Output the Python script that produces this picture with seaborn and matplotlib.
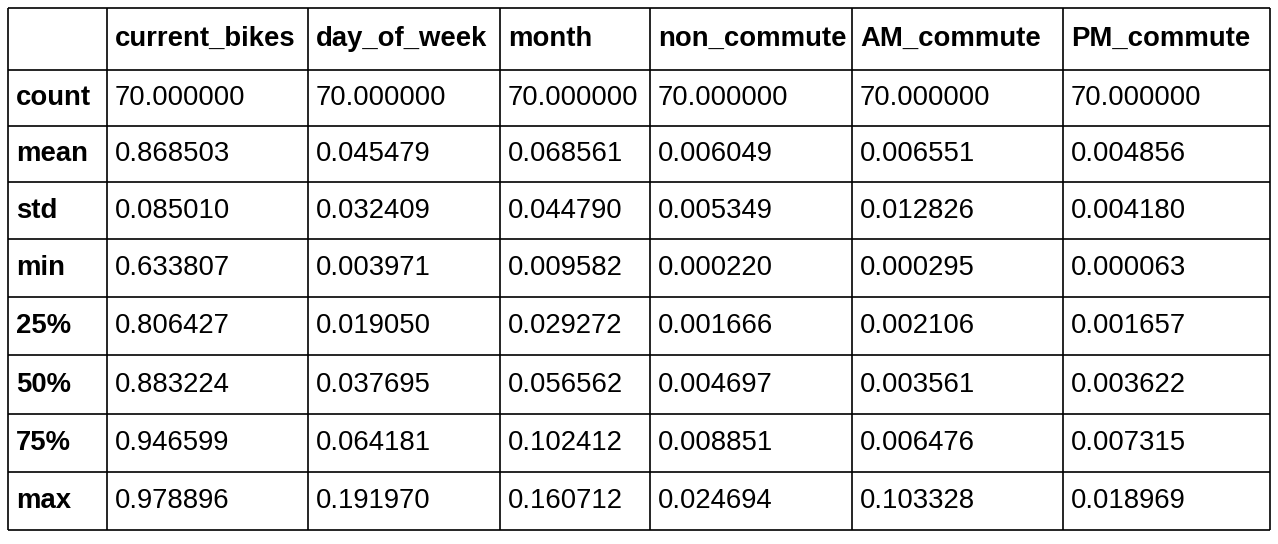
import numpy as np
import pandas as pd
import seaborn as sns
import matplotlib.pyplot as plt

sns.set_style("white")
plt.rcParams['font.family'] = ['Liberation Sans', 'DejaVu Sans']
plt.rcParams['text.color'] = 'black'

columns = ['current_bikes', 'day_of_week', 'month', 'non_commute', 'AM_commute', 'PM_commute']
index = ['count', 'mean', 'std', 'min', '25%', '50%', '75%', 'max']
current_bikes = [70.0, 0.868503, 0.085010, 0.633807, 0.806427, 0.883224, 0.946599, 0.978896]
day_of_week = [70.0, 0.045479, 0.032409, 0.003971, 0.019050, 0.037695, 0.064181, 0.191970]
month = [70.0, 0.068561, 0.044790, 0.009582, 0.029272, 0.056562, 0.102412, 0.160712]
non_commute = [70.0, 0.006049, 0.005349, 0.000220, 0.001666, 0.004697, 0.008851, 0.024694]
am_commute = [70.0, 0.006551, 0.012826, 0.000295, 0.002106, 0.003561, 0.006476, 0.103328]
pm_commute = [70.0, 0.004856, 0.004180, 0.000063, 0.001657, 0.003622, 0.007315, 0.018969]

df = pd.DataFrame(dict(zip(columns, [current_bikes, day_of_week, month, non_commute,
                                     am_commute, pm_commute])), index=index)

# table geometry in pixels
col_x = [8, 107, 308, 500, 650, 852, 1063, 1270]
row_y = [8, 70, 126, 182, 239, 297, 355, 414, 472, 530]

fig = plt.figure(figsize=(12.78, 5.44), dpi=100)
ax = fig.add_axes([0, 0, 1, 1])
ax.set_xlim(0, 1278); ax.set_ylim(544, 0); ax.axis('off')

ax.vlines(col_x, row_y[0], row_y[-1], color='black', lw=1.2)
ax.hlines(row_y, col_x[0], col_x[-1], color='black', lw=1.2)

fs = 19.8
for j, c in enumerate(columns):
    ax.text(col_x[j + 1] + 8, (row_y[0] + row_y[1]) / 2, c, fontsize=fs,
            fontweight='bold', va='center', ha='left', color='black')
for i, r in enumerate(index):
    yc = (row_y[i + 1] + row_y[i + 2]) / 2
    ax.text(col_x[0] + 8, yc, r, fontsize=fs, fontweight='bold', va='center', ha='left',
            color='black')
    for j, c in enumerate(columns):
        ax.text(col_x[j + 1] + 8, yc, f"{df.loc[r, c]:.6f}", fontsize=fs,
                va='center', ha='left', color='black')

plt.savefig('out.png', dpi=100)
